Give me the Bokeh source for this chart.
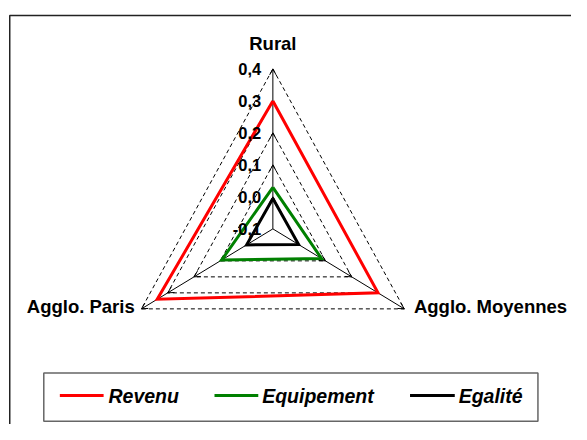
import math
from bokeh.plotting import figure
from bokeh.models import Range1d
from bokeh.core.properties import value
from bokeh.embed import file_html
from bokeh.resources import INLINE

# ---- data ----
categories = ["Rural", "Agglo. Moyennes", "Agglo. Paris"]
levels = [-0.1, 0.0, 0.1, 0.2, 0.3, 0.4]
tick_labels = ["-0,1", "0,0", "0,1", "0,2", "0,3", "0,4"]
series_names = ["Revenu", "Equipement", "Egalité"]
revenu = [0.30, 0.30, 0.34]
equipement = [0.03, 0.085, 0.095]
egalite = [-0.005, -0.002, 0.0]
series_values = [revenu, equipement, egalite]
series_colors = ["#FF0000", "#008000", "#000000"]

# ---- layout (reference-image pixel space, scaled into the figure) ----
W, H = 571, 424
CX, CY = 280.0, 237.0
RX, RY = 156.0, 166.0
RMIN, RMAX = levels[0], levels[-1]
FONT = value("Liberation Sans")


def pt(v, i):
    r = (v - RMIN) / (RMAX - RMIN)
    a = math.radians(90 - 120 * i)
    return CX + r * RX * math.cos(a), CY - r * RY * math.sin(a)


p = figure(width=W, height=H, output_backend="svg", toolbar_location=None,
           x_range=Range1d(0, 587), y_range=Range1d(440, 0),
           min_border=0, outline_line_color=None)
p.axis.visible = False
p.grid.visible = False
p.background_fill_color = "white"
p.border_fill_color = "white"

# outer frame (left and top edges visible)
p.line([9.5, 9.5, 600], [460, 15.5, 15.5], line_color="#222222", line_width=1.5)

# dashed grid triangles
gx, gy = [], []
for L in levels[1:]:
    pts = [pt(L, i) for i in (0, 1, 2, 0)]
    gx.append([q[0] for q in pts])
    gy.append([q[1] for q in pts])
p.multi_line(gx, gy, line_color="black", line_width=1, line_dash="4 3")

# axes
ax_x, ax_y = [], []
for i in range(3):
    e = pt(RMAX, i)
    ax_x.append([CX, e[0]])
    ax_y.append([CY, e[1]])
p.multi_line(ax_x, ax_y, line_color="black", line_width=1)

# chevron tick marks
tx, ty = [], []
for i in range(3):
    for L in levels[1:]:
        px_, py_ = pt(L, i)
        dx, dy = px_ - CX, py_ - CY
        n = math.hypot(dx, dy)
        ux, uy = dx / n, dy / n
        for s in (1, -1):
            th = math.radians(28) * s
            rx = ux * math.cos(th) - uy * math.sin(th)
            ry = ux * math.sin(th) + uy * math.cos(th)
            tx.append([px_, px_ - 7 * rx])
            ty.append([py_, py_ - 7 * ry])
p.multi_line(tx, ty, line_color="black", line_width=1)

# series
for vals, col in zip(series_values, series_colors):
    pts = [pt(v, i) for i, v in enumerate(vals)] + [pt(vals[0], 0)]
    p.line([q[0] for q in pts], [q[1] for q in pts], line_color=col,
           line_width=3, line_join="miter")

# value labels on the Rural axis
lab_y = [pt(L, 0)[1] for L in levels]
p.text(x=[268] * len(levels), y=lab_y, text=tick_labels, text_font=FONT,
       text_font_style="bold", text_font_size="16.5px", text_align="right",
       text_baseline="middle", text_color="black")

# category labels
p.text(x=[CX], y=[45], text=[categories[0]], text_font=FONT,
       text_font_style="bold", text_font_size="18.5px", text_align="center",
       text_baseline="middle")
p.text(x=[425], y=[318], text=[categories[1]], text_font=FONT,
       text_font_style="bold", text_font_size="18.5px", text_align="left",
       text_baseline="middle")
p.text(x=[138], y=[318], text=[categories[2]], text_font=FONT,
       text_font_style="bold", text_font_size="18.5px", text_align="right",
       text_baseline="middle")

# legend
p.quad(left=[44.5], right=[552.5], top=[386.5], bottom=[436.5],
       fill_color="white", line_color="#666666", line_width=1.5)
leg_x0 = [61, 220, 421]
leg_x1 = [106, 265, 467]
leg_tx = [111, 269, 471]
p.segment(x0=leg_x0, y0=[410] * 3, x1=leg_x1, y1=[410] * 3,
          line_color=series_colors, line_width=3)
p.text(x=leg_tx, y=[410] * 3, text=series_names, text_font=FONT,
       text_font_style="bold italic", text_font_size="19.5px",
       text_align="left", text_baseline="middle")

open("out.html", "w").write(file_html(p, INLINE))
